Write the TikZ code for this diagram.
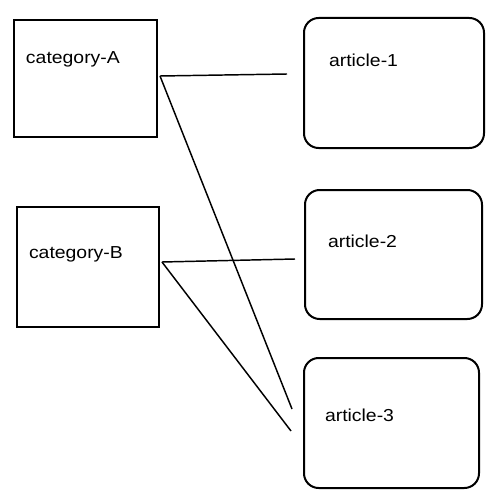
\documentclass[tikz,border=0pt]{standalone}
\usepackage{fontspec}
\setmainfont{Liberation Sans}
\usepackage{graphicx}
\newcommand{\widetext}[1]{\scalebox{1.12}[1]{#1}}

\begin{document}
\begin{tikzpicture}[x=0.75pt, y=-0.75pt, line width=1.5pt,
    font=\fontsize{13}{15}\selectfont,
    catbox/.style={draw, rectangle, anchor=north west, inner sep=0pt},
    artbox/.style={draw, rectangle, rounded corners=11pt, anchor=north west, inner sep=0pt},
    lbl/.style={anchor=base west, inner sep=0pt},
    link/.style={line width=1.1pt}]
    \useasboundingbox (0,0) rectangle (488,492);
    % categories
    \node[catbox, minimum width=107.25pt, minimum height=87.75pt] (catA) at (13,19) {};
    \node[catbox, minimum width=106.5pt, minimum height=90pt]     (catB) at (16,206) {};
    \node[lbl] (catA-text) at (25,64)  {\widetext{category-A}};
    \node[lbl] (catB-text) at (28,258) {\widetext{category-B}};
    % articles
    \node[artbox, minimum width=135pt, minimum height=97.5pt]    (art1) at (303,17)  {};
    \node[artbox, minimum width=132.75pt, minimum height=96.75pt] (art2) at (304,189) {};
    \node[artbox, minimum width=131.25pt, minimum height=97.5pt] (art3) at (303,357) {};
    \node[lbl] (art1-text) at (328,67)  {\widetext{article-1}};
    \node[lbl] (art2-text) at (327,247) {\widetext{article-2}};
    \node[lbl] (art3-text) at (324,421) {\widetext{article-3}};
    % loose ends of the links
    \coordinate (catA-out) at (160,76);
    \coordinate (catB-out) at (162,262);
    \coordinate (art1-in)  at (287,74);
    \coordinate (art2-in)  at (295,259);
    \coordinate (art3-inA) at (292,409);
    \coordinate (art3-inB) at (291,431);
    \draw[link] (catA-out) -- (art1-in);
    \draw[link] (catA-out) -- (art3-inA);
    \draw[link] (catB-out) -- (art2-in);
    \draw[link] (catB-out) -- (art3-inB);
\end{tikzpicture}
\end{document}
